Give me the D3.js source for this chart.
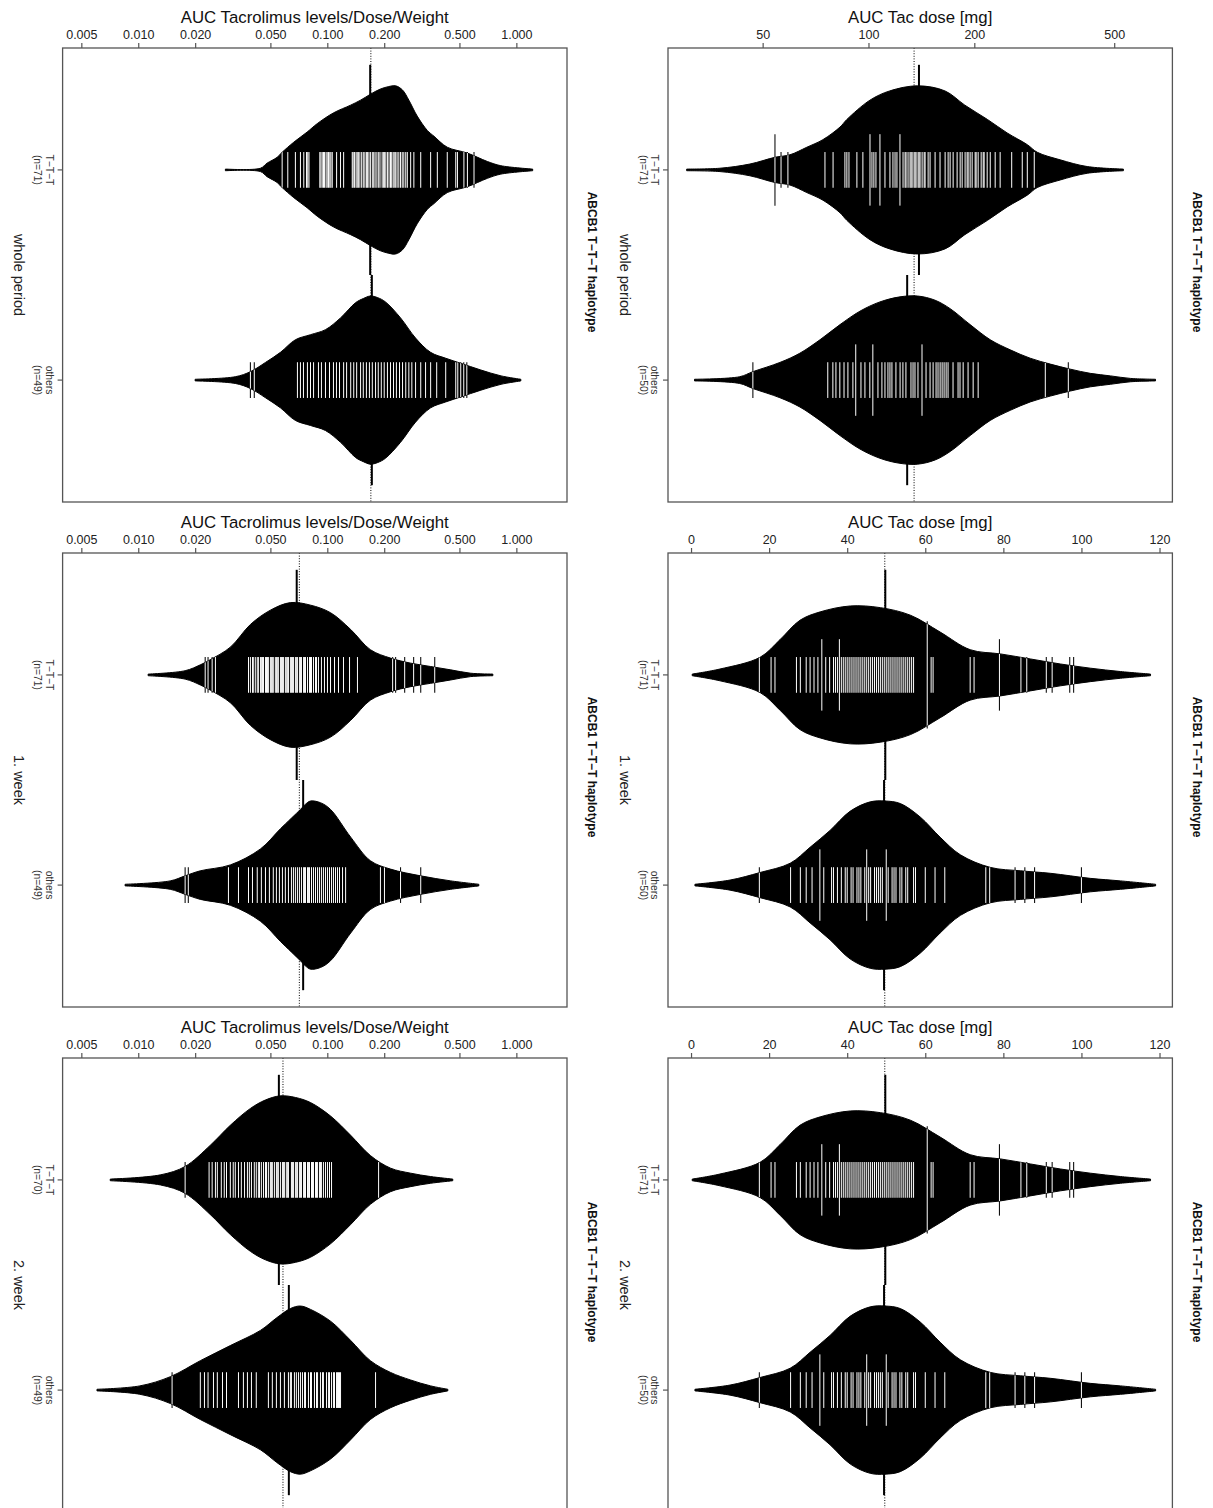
<!DOCTYPE html>
<html>
<head>
<meta charset="utf-8">
<script src="https://cdn.jsdelivr.net/npm/d3@7"></script>
<style>
  body { margin: 0; background: #fff; }
  svg { display: block; font-family: "Liberation Sans", Arial, Helvetica, sans-serif; }
</style>
</head>
<body>
<svg id="chart" width="1213" height="1508"></svg>
<script>
// ---------------------------------------------------------------
// Beanplots: ABCB1 T-T-T haplotype carriers vs. others
// left column: AUC tacrolimus levels / dose / weight (log axis)
// right column: AUC tacrolimus dose in mg
// ---------------------------------------------------------------

const periods = ["whole period", "1. week", "2. week"];
const groupNames = ["T\u2212T\u2212T", "others"];
const factorLabel = "ABCB1 T\u2212T\u2212T haplotype";
const levelTitle = "AUC Tacrolimus levels/Dose/Weight";
const doseTitle = "AUC Tac dose [mg]";

const levelTicks = [0.005, 0.01, 0.02, 0.05, 0.1, 0.2, 0.5, 1];
const doseLogTicks = [50, 100, 200, 500];
const doseLinTicks = [0, 20, 40, 60, 80, 100, 120];

// axis limits
const levelRange = [0.00398, 1.853];
const doseLogRange = [26.9, 732];
const doseLinRange = [-5.9, 123.3];

// ---- whole period, levels/dose/weight ----
const lvWholeTTT = [0.0577, 0.0618, 0.0678, 0.0721, 0.0751, 0.0776, 0.0788, 0.0800, 0.0913, 0.0925,
  0.0940, 0.0955, 0.0966, 0.0985, 0.0999, 0.1015, 0.1031, 0.1045, 0.1062, 0.1120,
  0.1175, 0.1220, 0.1355, 0.1370, 0.1394, 0.1420, 0.1440, 0.1460, 0.1487, 0.1520,
  0.1550, 0.1580, 0.1610, 0.1630, 0.1660, 0.1690, 0.1730, 0.1760, 0.1790, 0.1830,
  0.1870, 0.1900, 0.1950, 0.1980, 0.2010, 0.2040, 0.2080, 0.2120, 0.2160, 0.2190,
  0.2230, 0.2260, 0.2300, 0.2340, 0.2390, 0.2440, 0.2490, 0.2540, 0.2600, 0.2650,
  0.2760, 0.2870, 0.3120, 0.3520, 0.3820, 0.4310, 0.4780, 0.4880, 0.5280, 0.5510, 0.5970];
const lvWholeTTTDensityAt = [0.0289, 0.0443, 0.048, 0.0543, 0.0577, 0.0665, 0.0782, 0.0884, 0.1082, 0.1328, 0.150,
  0.169, 0.190, 0.210, 0.230, 0.250, 0.270, 0.299, 0.338, 0.367, 0.431, 0.551, 0.703, 0.828, 1.22];
const lvWholeTTTDensity = [0.01, 0.02, 0.08, 0.15, 0.21, 0.33, 0.45, 0.55, 0.68, 0.77, 0.83,
  0.90, 0.96, 0.99, 1.0, 0.95, 0.83, 0.64, 0.47, 0.40, 0.27, 0.20, 0.10, 0.05, 0.01];

const lvWholeOthers = [0.0392, 0.0411, 0.0695, 0.0721, 0.0748, 0.0785, 0.0815, 0.0846, 0.0898, 0.0931,
  0.0978, 0.1027, 0.1078, 0.1118, 0.1160, 0.1220, 0.1265, 0.1330, 0.1380, 0.1430,
  0.1500, 0.1550, 0.1610, 0.1670, 0.1730, 0.1800, 0.1860, 0.1930, 0.2000, 0.2080,
  0.2160, 0.2240, 0.2320, 0.2410, 0.2500, 0.2600, 0.2700, 0.2800, 0.2930, 0.3120,
  0.3310, 0.3520, 0.3790, 0.4230, 0.4780, 0.4900, 0.5080, 0.5270, 0.5470];
const lvWholeOthersDensityAt = [0.0200, 0.0326, 0.0392, 0.0471, 0.0565, 0.0678, 0.0815, 0.0978, 0.1175, 0.141,
  0.155, 0.169, 0.185, 0.203, 0.244, 0.293, 0.352, 0.423, 0.508, 0.649, 0.830, 1.056];
const lvWholeOthersDensity = [0.01, 0.04, 0.10, 0.21, 0.33, 0.48, 0.54, 0.60, 0.74, 0.92,
  0.97, 1.0, 0.98, 0.93, 0.74, 0.50, 0.33, 0.26, 0.20, 0.12, 0.05, 0.01];

// ---- whole period, dose ----
const doseWholeTTT = [54.2, 54.2, 56.4, 59.0, 75.2, 79.3, 85.7, 86.8, 88.0, 92.7,
  96.4, 101.0, 101.0, 102.3, 103.6, 105.0, 107.8, 107.8, 111.4, 115.1,
  117.4, 119.0, 120.5, 122.9, 122.9, 125.4, 127.1, 127.9, 129.6, 131.3,
  132.2, 133.1, 134.8, 135.7, 136.6, 138.4, 139.3, 140.2, 142.1, 144.0,
  144.9, 147.8, 149.7, 154.7, 159.8, 165.2, 168.5, 170.7, 174.1, 178.7,
  182.3, 184.7, 188.3, 190.8, 192.1, 194.6, 197.2, 201.1, 202.4, 205.1,
  209.2, 212.0, 213.3, 217.6, 222.0, 229.3, 236.9, 255.5, 273.8, 283.0, 296.2];
const doseWholeTTTDensityAt = [30.4, 37.8, 46.0, 54.2, 59.8, 66.8, 74.2, 83.0, 86.8, 101, 115,
  138, 165, 188, 218, 248, 283, 302, 351, 419, 531];
const doseWholeTTTDensity = [0.01, 0.02, 0.07, 0.15, 0.18, 0.27, 0.36, 0.51, 0.60, 0.83, 0.94,
  1.0, 0.94, 0.77, 0.60, 0.44, 0.30, 0.21, 0.12, 0.04, 0.01];

const doseWholeOthers = [46.9, 76.6, 79.2, 80.8, 82.9, 85.2, 87.4, 90.3, 92.0, 92.0,
  95.2, 97.7, 100.9, 102.9, 102.9, 106.4, 109.2, 111.4, 113.6, 115.1,
  116.6, 119.7, 123.0, 125.3, 127.8, 132.1, 133.9, 135.6, 138.3, 142.0,
  142.0, 145.8, 149.7, 152.7, 155.7, 157.7, 159.9, 162.0, 164.1, 166.3,
  168.4, 174.0, 179.8, 182.1, 185.9, 192.0, 198.5, 205.1, 318.4, 370.2];
const doseWholeOthersDensityAt = [32.0, 43.0, 46.9, 56.0, 63.8, 72.8, 83.0, 94.6, 107.8, 122.9, 138,
  154.7, 170.7, 194.6, 222.0, 253.0, 288.5, 329.1, 375.2, 427.8, 488.0, 556.4, 655.4];
const doseWholeOthersDensity = [0.01, 0.04, 0.10, 0.21, 0.32, 0.48, 0.66, 0.82, 0.93, 0.99, 1.0,
  0.95, 0.85, 0.66, 0.48, 0.36, 0.26, 0.19, 0.13, 0.08, 0.05, 0.02, 0.01];

// ---- 1. week, levels/dose/weight ----
const lvWeek1TTT = [0.0226, 0.0234, 0.0246, 0.0256, 0.0383, 0.0392, 0.0402, 0.0406, 0.0416, 0.0426,
  0.0432, 0.0443, 0.0448, 0.0454, 0.0460, 0.0471, 0.0477, 0.0483, 0.0488, 0.0500,
  0.0506, 0.0512, 0.0518, 0.0531, 0.0538, 0.0544, 0.0551, 0.0565, 0.0572, 0.0579,
  0.0586, 0.0600, 0.0607, 0.0615, 0.0623, 0.0638, 0.0646, 0.0654, 0.0662, 0.0678,
  0.0686, 0.0695, 0.0712, 0.0721, 0.0730, 0.0749, 0.0758, 0.0767, 0.0786, 0.0805,
  0.0815, 0.0825, 0.0845, 0.0866, 0.0877, 0.0898, 0.0931, 0.0966, 0.1002, 0.1040,
  0.1092, 0.1146, 0.1218, 0.1311, 0.1444, 0.2216, 0.2298, 0.2566, 0.2862, 0.3120, 0.3700];
const lvWeek1TTTDensityAt = [0.01128, 0.0177, 0.0213, 0.0240, 0.0307, 0.0392, 0.0500, 0.0638, 0.0815,
  0.104, 0.133, 0.169, 0.216, 0.276, 0.352, 0.450, 0.574, 0.751];
const lvWeek1TTTDensity = [0.01, 0.05, 0.12, 0.18, 0.33, 0.60, 0.77, 0.86, 0.83,
  0.74, 0.54, 0.30, 0.20, 0.14, 0.10, 0.06, 0.02, 0.01];

const lvWeek1Others = [0.0177, 0.0184, 0.0300, 0.0339, 0.0383, 0.0402, 0.0426, 0.0448, 0.0471, 0.0494,
  0.0518, 0.0538, 0.0558, 0.0579, 0.0600, 0.0623, 0.0646, 0.0662, 0.0678, 0.0695,
  0.0712, 0.0730, 0.0749, 0.0758, 0.0767, 0.0786, 0.0796, 0.0805, 0.0825, 0.0845,
  0.0866, 0.0888, 0.0909, 0.0931, 0.0954, 0.0978, 0.1002, 0.1027, 0.1053, 0.1078,
  0.1105, 0.1132, 0.1160, 0.1204, 0.1250, 0.1910, 0.2006, 0.2440, 0.3120];
const lvWeek1OthersDensityAt = [0.00852, 0.01476, 0.0177, 0.0213, 0.0307, 0.0443, 0.0565, 0.0721,
  0.0765, 0.0815, 0.092, 0.104, 0.133, 0.169, 0.216, 0.312, 0.450, 0.633];
const lvWeek1OthersDensity = [0.01, 0.05, 0.11, 0.17, 0.24, 0.43, 0.67, 0.90,
  0.96, 1.0, 0.98, 0.90, 0.57, 0.29, 0.19, 0.11, 0.05, 0.01];

// ---- 1. week, dose ----
const doseWeek1TTT = [17.5, 20.5, 21.5, 27, 28, 29.5, 30.5, 31.5, 32.5, 33.5,
  33.5, 34.5, 35.5, 36.5, 37, 37.5, 38, 38, 38.5, 39,
  39.5, 40, 40.5, 41, 41.5, 42, 42.5, 43, 43.5, 44,
  44.5, 45, 45.5, 46, 46.5, 47, 47.5, 48, 48.5, 49,
  49.5, 50, 50.5, 51, 51.5, 52, 52.5, 53, 53.5, 54,
  54.5, 55, 55.5, 56, 56.5, 57, 60.5, 60.5, 60.5, 61.5,
  62, 71.5, 72.5, 79, 79, 84.5, 86, 91, 92.5, 97, 98];
const doseWeek1TTTDensityAt = [0.3, 7.4, 17.7, 22.8, 27.9, 33.1, 40.8, 48.5, 56.2, 63.8, 71.5, 79.2,
  86.9, 94.6, 102.3, 110.0, 117.7];
const doseWeek1TTTDensity = [0.01, 0.07, 0.21, 0.42, 0.65, 0.75, 0.82, 0.80, 0.71, 0.51, 0.30, 0.25,
  0.19, 0.13, 0.08, 0.04, 0.01];

const doseWeek1Others = [17.5, 25.5, 28, 29.5, 31, 33, 33, 34, 36, 36.5,
  37.5, 38.5, 39.5, 40, 41, 41.5, 42.5, 43, 43.5, 44.5,
  45, 45, 45.5, 46, 47, 47.5, 48, 48.5, 49, 50,
  50, 50.5, 51.5, 52, 52.5, 53.5, 54, 55, 55.5, 57,
  57.5, 60, 62.5, 65, 75.5, 76.5, 83, 85.5, 88, 100];
const doseWeek1OthersDensityAt = [1.0, 10.0, 17.7, 25.4, 30.5, 35.6, 40.8, 45.9, 49.7, 53.6, 58.7,
  63.8, 69.0, 76.7, 84.4, 92.1, 102.3, 110.0, 119.0];
const doseWeek1OthersDensity = [0.01, 0.06, 0.15, 0.26, 0.45, 0.65, 0.88, 0.99, 1.0, 0.97, 0.81,
  0.57, 0.36, 0.21, 0.17, 0.14, 0.08, 0.05, 0.01];

// ---- 2. week, levels/dose/weight ----
const lvWeek2TTT = [0.0177, 0.0237, 0.0246, 0.0256, 0.0262, 0.0275, 0.0285, 0.0293, 0.0307, 0.0318,
  0.0326, 0.0339, 0.0351, 0.0365, 0.0378, 0.0387, 0.0397, 0.0411, 0.0421, 0.0432,
  0.0438, 0.0448, 0.0460, 0.0471, 0.0477, 0.0488, 0.0500, 0.0506, 0.0512, 0.0525,
  0.0538, 0.0544, 0.0551, 0.0565, 0.0579, 0.0586, 0.0593, 0.0607, 0.0615, 0.0623,
  0.0646, 0.0654, 0.0662, 0.0678, 0.0686, 0.0695, 0.0712, 0.0721, 0.0730, 0.0749,
  0.0758, 0.0767, 0.0786, 0.0796, 0.0805, 0.0825, 0.0835, 0.0845, 0.0866, 0.0877,
  0.0888, 0.0909, 0.0920, 0.0931, 0.0954, 0.0978, 0.1002, 0.1027, 0.1053, 0.1868];
const lvWeek2TTTDensityAt = [0.00711, 0.0131, 0.0177, 0.0240, 0.0307, 0.0392, 0.047, 0.0565, 0.068, 0.0815, 0.104,
  0.133, 0.169, 0.216, 0.276, 0.352, 0.461];
const lvWeek2TTTDensity = [0.01, 0.06, 0.16, 0.41, 0.65, 0.85, 0.95, 1.0, 0.98, 0.92, 0.76,
  0.53, 0.29, 0.14, 0.08, 0.04, 0.01];

const lvWeek2Others = [0.0151, 0.0213, 0.0224, 0.0234, 0.0250, 0.0262, 0.0279, 0.0293, 0.0339, 0.0360,
  0.0378, 0.0397, 0.0421, 0.0488, 0.0512, 0.0538, 0.0565, 0.0593, 0.0623, 0.0638,
  0.0646, 0.0670, 0.0686, 0.0704, 0.0721, 0.0739, 0.0758, 0.0767, 0.0795, 0.0815,
  0.0825, 0.0855, 0.0877, 0.0888, 0.0920, 0.0943, 0.0954, 0.0990, 0.1014, 0.1027,
  0.1053, 0.1078, 0.1092, 0.1119, 0.1132, 0.1146, 0.1160, 0.1175, 0.1800];
const lvWeek2OthersDensityAt = [0.00605, 0.0102, 0.0148, 0.0213, 0.0307, 0.0443, 0.054, 0.0638, 0.072, 0.0815, 0.104,
  0.133, 0.169, 0.216, 0.276, 0.352, 0.434];
const lvWeek2OthersDensity = [0.01, 0.05, 0.16, 0.35, 0.53, 0.71, 0.86, 0.97, 1.0, 0.96, 0.82,
  0.59, 0.35, 0.21, 0.12, 0.05, 0.01];

// ---- 2. week, dose (same dose summaries as in week 1) ----
const doseWeek2TTT = doseWeek1TTT.slice();
const doseWeek2TTTDensityAt = doseWeek1TTTDensityAt.slice();
const doseWeek2TTTDensity = doseWeek1TTTDensity.slice();
const doseWeek2Others = doseWeek1Others.slice();
const doseWeek2OthersDensityAt = doseWeek1OthersDensityAt.slice();
const doseWeek2OthersDensity = doseWeek1OthersDensity.slice();

// ---------------------------------------------------------------
// layout
// ---------------------------------------------------------------
const colLeft = [62.6, 668];
const panelW = 504.4;
const rowTop = [48, 553, 1058];
const panelH = 454;
const beanlineLen = 0.17;   // length of one bean line, in group units
const maxHalfWidth = 0.4;   // widest bean half-width, in group units
const fontFamily = '"Liberation Sans", Arial, Helvetica, sans-serif';

const bean = (obs, at, dens) => ({ obs, outline: at.map((v, i) => [v, dens[i]]) });

const panels = [
  { row: 0, col: 0, axis: "level", beans: [bean(lvWholeTTT, lvWholeTTTDensityAt, lvWholeTTTDensity), bean(lvWholeOthers, lvWholeOthersDensityAt, lvWholeOthersDensity)] },
  { row: 0, col: 1, axis: "doseLog", beans: [bean(doseWholeTTT, doseWholeTTTDensityAt, doseWholeTTTDensity), bean(doseWholeOthers, doseWholeOthersDensityAt, doseWholeOthersDensity)] },
  { row: 1, col: 0, axis: "level", beans: [bean(lvWeek1TTT, lvWeek1TTTDensityAt, lvWeek1TTTDensity), bean(lvWeek1Others, lvWeek1OthersDensityAt, lvWeek1OthersDensity)] },
  { row: 1, col: 1, axis: "doseLin", beans: [bean(doseWeek1TTT, doseWeek1TTTDensityAt, doseWeek1TTTDensity), bean(doseWeek1Others, doseWeek1OthersDensityAt, doseWeek1OthersDensity)] },
  { row: 2, col: 0, axis: "level", beans: [bean(lvWeek2TTT, lvWeek2TTTDensityAt, lvWeek2TTTDensity), bean(lvWeek2Others, lvWeek2OthersDensityAt, lvWeek2OthersDensity)] },
  { row: 2, col: 1, axis: "doseLin", beans: [bean(doseWeek2TTT, doseWeek2TTTDensityAt, doseWeek2TTTDensity), bean(doseWeek2Others, doseWeek2OthersDensityAt, doseWeek2OthersDensity)] }
];

const axisSpecs = {
  level:   { log: true,  range: levelRange,   ticks: levelTicks,   fmt: d3.format(".3f"), title: levelTitle },
  doseLog: { log: true,  range: doseLogRange, ticks: doseLogTicks, fmt: d3.format("d"),   title: doseTitle },
  doseLin: { log: false, range: doseLinRange, ticks: doseLinTicks, fmt: d3.format("d"),   title: doseTitle }
};

const svg = d3.select("#chart");
let clipId = 0;

panels.forEach(p => {
  const spec = axisSpecs[p.axis];
  const x0 = colLeft[p.col], y0 = rowTop[p.row];
  const x = (spec.log ? d3.scaleLog() : d3.scaleLinear()).domain(spec.range).range([x0, x0 + panelW]);
  // groups sit at 1 and 2 on a 0.5..2.5 range widened by 4%
  const g = d3.scaleLinear().domain([0.42, 2.58]).range([y0, y0 + panelH]);
  const step = g(2) - g(1);
  const w = d3.scaleLinear().domain([0, 1]).range([0, maxHalfWidth * step]);
  const avg = vals => spec.log ? Math.pow(10, d3.mean(vals, v => Math.log10(v))) : d3.mean(vals);

  const layer = svg.append("g");

  // overall average (dotted)
  const all = p.beans.flatMap(b => b.obs);
  layer.append("line")
    .attr("x1", x(avg(all))).attr("x2", x(avg(all)))
    .attr("y1", y0).attr("y2", y0 + panelH)
    .attr("stroke", "#000").attr("stroke-width", 1)
    .attr("stroke-dasharray", "1,1.6");

  p.beans.forEach((b, i) => {
    const yc = g(i + 1);
    const mx = x(avg(b.obs));

    // bean average
    layer.append("line")
      .attr("x1", mx).attr("x2", mx)
      .attr("y1", yc - step / 2).attr("y2", yc + step / 2)
      .attr("stroke", "#000").attr("stroke-width", 2);

    const counts = d3.rollups(b.obs, v => v.length, d => d);
    const lineSeg = sel => sel
      .attr("x1", d => x(d[0])).attr("x2", d => x(d[0]))
      .attr("y1", d => yc - d[1] * beanlineLen * step / 2)
      .attr("y2", d => yc + d[1] * beanlineLen * step / 2);

    // bean lines outside the bean show up dark
    layer.append("g").selectAll("line").data(counts).join("line")
      .call(lineSeg).attr("stroke", "#111").attr("stroke-width", 1.1);

    const area = d3.area()
      .x(d => x(d[0]))
      .y0(d => yc - Math.max(0.6, w(d[1])))
      .y1(d => yc + Math.max(0.6, w(d[1])))
      .curve(d3.curveCatmullRom.alpha(0.5));
    const path = area(b.outline);

    layer.append("path").attr("d", path)
      .attr("fill", "#000").attr("stroke", "#000").attr("stroke-width", 1);

    const id = "beanclip" + (clipId++);
    svg.append("clipPath").attr("id", id).append("path").attr("d", path);

    layer.append("g").attr("clip-path", `url(#${id})`)
      .selectAll("line").data(counts).join("line")
      .call(lineSeg).attr("stroke", "#fff").attr("stroke-width", 1.0);
  });

  // frame
  layer.append("rect")
    .attr("x", x0).attr("y", y0).attr("width", panelW).attr("height", panelH)
    .attr("fill", "none").attr("stroke", "#555").attr("stroke-width", 1.3);

  // value axis on top
  const ax = layer.append("g").attr("transform", `translate(0,${y0})`)
    .call(d3.axisTop(x).tickValues(spec.ticks).tickFormat(spec.fmt).tickSize(5).tickPadding(4));
  ax.select(".domain").remove();
  ax.selectAll(".tick line").attr("stroke", "#555").attr("stroke-width", 1.2);
  ax.selectAll(".tick text").attr("fill", "#222")
    .style("font-family", fontFamily).style("font-size", "12.5px");

  layer.append("text")
    .attr("x", x0 + panelW / 2).attr("y", y0 - 25)
    .attr("text-anchor", "middle").attr("fill", "#111")
    .style("font-family", fontFamily).style("font-size", "16.8px")
    .text(spec.title);

  // group axis on the left
  p.beans.forEach((b, i) => {
    const yc = g(i + 1);
    layer.append("line").attr("x1", x0 - 5).attr("x2", x0).attr("y1", yc).attr("y2", yc)
      .attr("stroke", "#555").attr("stroke-width", 1.2);
    const lab = layer.append("g").attr("transform", `translate(${x0},${yc}) rotate(90)`)
      .style("font-family", fontFamily).style("font-size", "10.3px").attr("fill", "#333")
      .attr("text-anchor", "middle");
    lab.append("text").attr("y", 17).text(groupNames[i]);
    lab.append("text").attr("y", 28.2).text(`(n=${b.obs.length})`);
  });

  // period label
  layer.append("text")
    .attr("transform", `translate(${x0 - 44.6},${y0 + panelH / 2}) rotate(90)`)
    .attr("y", 3.7).attr("text-anchor", "middle").attr("fill", "#222")
    .style("font-family", fontFamily).style("font-size", "14.5px")
    .text(periods[p.row]);

  // factor label on the right
  layer.append("text")
    .attr("transform", `translate(${x0 + panelW + 24},${y0 + 214}) rotate(90)`)
    .attr("y", 3).attr("text-anchor", "middle").attr("fill", "#111")
    .style("font-family", fontFamily).style("font-size", "12px").style("font-weight", "bold")
    .text(factorLabel);
});
</script>
</body>
</html>
